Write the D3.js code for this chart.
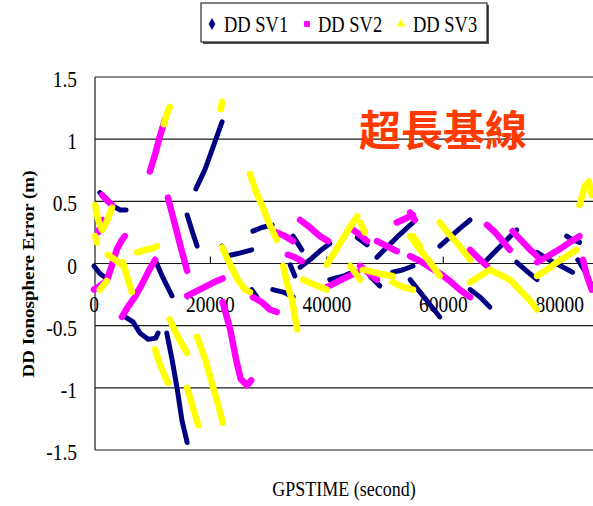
<!DOCTYPE html>
<html>
<head>
<meta charset="utf-8">
<script src="https://cdn.jsdelivr.net/npm/d3@7"></script>
<style>
  body { margin: 0; background: #fff; }
  svg { display: block; }
</style>
</head>
<body>
<svg id="chart" width="593" height="506"></svg>
<script>
// Double-difference ionosphere error per satellite pair, GPS time (s) vs error (m).
// Each series is a list of tracked arcs; each arc is a list of [time, error] samples.
const seriesNames = ["DD SV1", "DD SV2", "DD SV3"];
const seriesColors = ["#000080", "#ff00ff", "#ffff00"];
const xTicks = [0, 20000, 40000, 60000, 80000];
const yTicks = [-1.5, -1, -0.5, 0, 0.5, 1, 1.5];

const sv1 = [
  [[0,-0.02],[1000,-0.08],[2200,-0.12]],
  [[1000,0.57],[2100,0.52],[3300,0.46],[4500,0.43],[5500,0.43]],
  [[5000,-0.42],[6700,-0.47],[7900,-0.56],[9300,-0.61],[10600,-0.60],[11000,-0.56]],
  [[10500,0.03],[11800,-0.11],[13400,-0.26]],
  [[12500,-0.56],[13400,-0.77],[14300,-1.01],[15100,-1.26],[16000,-1.44]],
  [[16000,0.39],[16800,0.27],[17700,0.14]],
  [[17500,0.60],[19100,0.76],[20400,0.93],[22000,1.14]],
  [[22000,0.14],[22800,0.06],[24700,0.08],[27100,0.11]],
  [[27300,0.26],[28800,0.29],[30600,0.31]],
  [[27100,-0.21],[28000,-0.27]],
  [[30700,-0.21],[32500,-0.23],[34200,-0.27]],
  [[34200,0.22],[34900,0.17],[35700,0.11]],
  [[33700,-0.01],[34500,-0.10]],
  [[35400,-0.03],[37100,0.03],[38800,0.10],[40500,0.16]],
  [[40500,-0.13],[42900,-0.10],[44800,-0.06]],
  [[45200,0.21],[46900,0.15]],
  [[47400,-0.10],[49100,-0.18]],
  [[48600,0.05],[50300,0.13],[52000,0.21],[53400,0.27],[54800,0.33]],
  [[51300,-0.07],[53100,-0.05],[54800,-0.02]],
  [[54300,-0.13],[56000,-0.23],[57700,-0.33],[59400,-0.43]],
  [[59400,0.14],[61100,0.21],[62800,0.28],[64600,0.35]],
  [[64600,-0.21],[66300,-0.27],[68000,-0.35]],
  [[67500,0.03],[69200,0.11],[70900,0.19],[72600,0.27]],
  [[72600,0.01],[74300,-0.06],[76100,-0.13]],
  [[76100,0.09],[78100,0.03],[80200,-0.02],[82200,-0.07]],
  [[81200,0.22],[82200,0.19],[83400,0.17]],
  [[83100,0.03],[84300,-0.06],[85500,-0.18]]
];

const sv2 = [
  [[0,-0.21],[1000,-0.18],[2200,-0.14],[3100,-0.01],[3900,0.11],[4800,0.19],[5300,0.22]],
  [[1400,0.55],[2200,0.51],[3100,0.47]],
  [[700,0.25],[1200,0.31],[1500,0.35]],
  [[4800,-0.43],[5800,-0.35],[7000,-0.27],[8200,-0.17],[9400,-0.06],[10500,0.03]],
  [[12700,0.53],[13700,0.35],[14800,0.15],[16000,-0.06]],
  [[9600,0.74],[10500,0.88],[11300,1.02],[12200,1.16]],
  [[16000,-0.26],[17700,-0.22],[19400,-0.18],[21100,-0.14],[22100,-0.12]],
  [[22100,-0.31],[23400,-0.53],[24400,-0.77],[25200,-0.93],[26300,-0.98],[27000,-0.94]],
  [[27300,-0.27],[28800,-0.31],[30200,-0.37],[31400,-0.39]],
  [[31400,0.25],[32800,0.22],[34200,0.18]],
  [[33300,0.07],[34500,0.05],[35700,0.02]],
  [[35400,0.35],[37100,0.29],[38800,0.22],[40200,0.18]],
  [[40000,-0.19],[41700,-0.15],[43400,-0.11],[45200,-0.07]],
  [[44500,0.27],[45700,0.23],[46900,0.18]],
  [[45700,-0.02],[47000,-0.07],[48600,-0.13]],
  [[48600,0.18],[50300,0.14],[52000,0.10]],
  [[52000,0.33],[53400,0.36],[54800,0.39]],
  [[54300,0.06],[56000,0.02],[57700,-0.03],[59400,-0.08],[61100,-0.14],[62800,-0.21],[64600,-0.27]],
  [[54300,0.41],[55100,0.35]],
  [[64600,0.11],[65900,0.05],[67500,-0.02]],
  [[67500,0.31],[68900,0.25],[70200,0.18],[71400,0.11]],
  [[71900,0.26],[73300,0.19],[74700,0.12],[76100,0.06]],
  [[76100,0.01],[78000,0.06],[79800,0.11],[81700,0.17],[83400,0.22]],
  [[84000,0.03],[84600,-0.09],[85500,-0.21]]
];

const sv3 = [
  [[200,0.47],[500,0.39],[1000,0.31],[1400,0.27],[2200,0.34],[3100,0.45]],
  [[200,0.22],[500,0.17]],
  [[1000,-0.21],[1700,-0.17],[2200,-0.14]],
  [[2400,0.07],[3600,0.03],[4800,-0.01]],
  [[5000,0.01],[5700,-0.11],[6500,-0.23]],
  [[7400,0.09],[8800,0.11],[10000,0.12],[10800,0.14]],
  [[12000,1.12],[12500,1.20],[13000,1.26]],
  [[21800,1.24],[22000,1.30]],
  [[10500,-0.69],[11300,-0.81],[12700,-0.96]],
  [[13000,-0.45],[14400,-0.59],[16000,-0.72]],
  [[16000,-1.00],[16800,-1.13],[17900,-1.30]],
  [[17700,-0.59],[19100,-0.77],[20300,-0.97],[21300,-1.13],[22100,-1.28]],
  [[22000,0.13],[23400,-0.01],[24700,-0.13],[25900,-0.21],[26800,-0.23]],
  [[26800,0.72],[27800,0.58],[29000,0.45],[30200,0.31],[31400,0.19]],
  [[32500,-0.02],[33100,-0.15],[34000,-0.29],[34900,-0.53]],
  [[35900,-0.13],[37900,-0.17],[40000,-0.21]],
  [[40000,-0.01],[41700,0.12],[43400,0.25],[45200,0.38]],
  [[45700,0.33],[46500,0.25]],
  [[44000,-0.02],[44800,-0.07],[45700,-0.13]],
  [[46200,-0.05],[48800,-0.08],[51300,-0.10]],
  [[51300,-0.15],[53100,-0.19],[54800,-0.21]],
  [[54800,0.22],[56000,0.14]],
  [[54300,0.22],[56000,0.11],[57700,0.01],[59400,-0.10]],
  [[59400,0.33],[61100,0.23],[62800,0.14],[64600,0.03]],
  [[64600,-0.15],[66300,-0.10],[68000,-0.05],[69700,-0.09],[71400,-0.13],[73100,-0.21],[74900,-0.30],[76100,-0.37]],
  [[76100,-0.10],[77800,-0.05],[79500,0.01],[81200,0.06],[82900,0.11]],
  [[83400,0.47],[84300,0.62],[85000,0.66],[85500,0.55]]
];

const allSeries = [sv1, sv2, sv3];
const bandWidths = [5, 6.5, 6.5];

const svg = d3.select("#chart");
const serif = "'Liberation Serif', 'Times New Roman', serif";

const x = d3.scaleLinear().domain([0, 86400]).range([94, 597]);
const y = d3.scaleLinear().domain([-1.5, 1.5]).range([450, 77]);

// Serif labels are drawn slightly taller than wide.
function stretchedText(g, tx, ty, str, size, anchor, weight) {
  return g.append("text")
    .attr("transform", `translate(${tx},${ty}) scale(1,1.2)`)
    .attr("font-family", serif)
    .attr("font-size", size)
    .attr("font-weight", weight || "normal")
    .attr("text-anchor", anchor)
    .attr("fill", "#000")
    .text(str);
}

// Horizontal gridlines (including the top and bottom frame)
svg.append("g").selectAll("line").data(yTicks).join("line")
  .attr("x1", 95).attr("x2", 593)
  .attr("y1", d => y(d)).attr("y2", d => y(d))
  .attr("stroke", "#1a1a1a").attr("stroke-width", 1.2);

// Left axis line
svg.append("line")
  .attr("x1", 95).attr("x2", 95).attr("y1", y(1.5)).attr("y2", y(-1.5))
  .attr("stroke", "#1a1a1a").attr("stroke-width", 1.2);

// Tick marks on the zero line
svg.append("g").selectAll("line").data(xTicks.slice(1)).join("line")
  .attr("x1", d => x(d)).attr("x2", d => x(d))
  .attr("y1", y(0) - 7).attr("y2", y(0))
  .attr("stroke", "#1a1a1a").attr("stroke-width", 1.2);

// Y tick labels
const yLab = svg.append("g");
yTicks.forEach(v => stretchedText(yLab, 77, y(v) + 10, String(v), 19.5, "end"));

// X tick labels
const xLab = svg.append("g");
xTicks.forEach(v => stretchedText(xLab, x(v), 312, String(v), 19.5, "middle"));

// Series arcs
const lineAny = d3.line().x(d => x(d[0])).y(d => y(d[1]));
allSeries.forEach((arcs, i) => {
  svg.append("g").attr("class", "series-" + i)
    .selectAll("path").data(arcs).join("path")
    .attr("d", d => lineAny(d))
    .attr("fill", "none")
    .attr("stroke", seriesColors[i])
    .attr("stroke-width", bandWidths[i])
    .attr("stroke-linecap", "round")
    .attr("stroke-linejoin", "round");
});

// Axis titles
stretchedText(svg, 344, 496, "GPSTIME (second)", 18, "middle");
svg.append("text")
  .attr("transform", "translate(34,274) rotate(-90) scale(1.15,1)")
  .attr("font-family", serif)
  .attr("font-size", 16.5)
  .attr("font-weight", "bold")
  .attr("text-anchor", "middle")
  .text("DD Ionosphere Error (m)");

// Chinese annotation
svg.append("text")
  .attr("x", 359).attr("y", 146)
  .attr("font-family", "'Noto Sans CJK TC', 'Noto Sans CJK SC', sans-serif")
  .attr("font-size", 42)
  .attr("font-weight", "bold")
  .attr("fill", "#ff3a00")
  .text("超長基線");

// Legend
const lg = svg.append("g");
lg.append("rect").attr("x", 203).attr("y", 5).attr("width", 286).attr("height", 39).attr("fill", "#555");
lg.append("rect").attr("x", 201).attr("y", 3).attr("width", 286).attr("height", 39)
  .attr("fill", "#fff").attr("stroke", "#000").attr("stroke-width", 1);
const symTypes = [d3.symbolDiamond, d3.symbolSquare, d3.symbolTriangle];
const symX = [212, 307, 401];
const textX = [224, 318, 413];
seriesNames.forEach((name, i) => {
  lg.append("path")
    .attr("transform", `translate(${symX[i]},24)`)
    .attr("d", d3.symbol().type(symTypes[i]).size(i === 0 ? 40 : 34)())
    .attr("fill", seriesColors[i]);
  stretchedText(lg, textX[i], 32, name, 18.5, "start");
});
</script>
</body>
</html>
